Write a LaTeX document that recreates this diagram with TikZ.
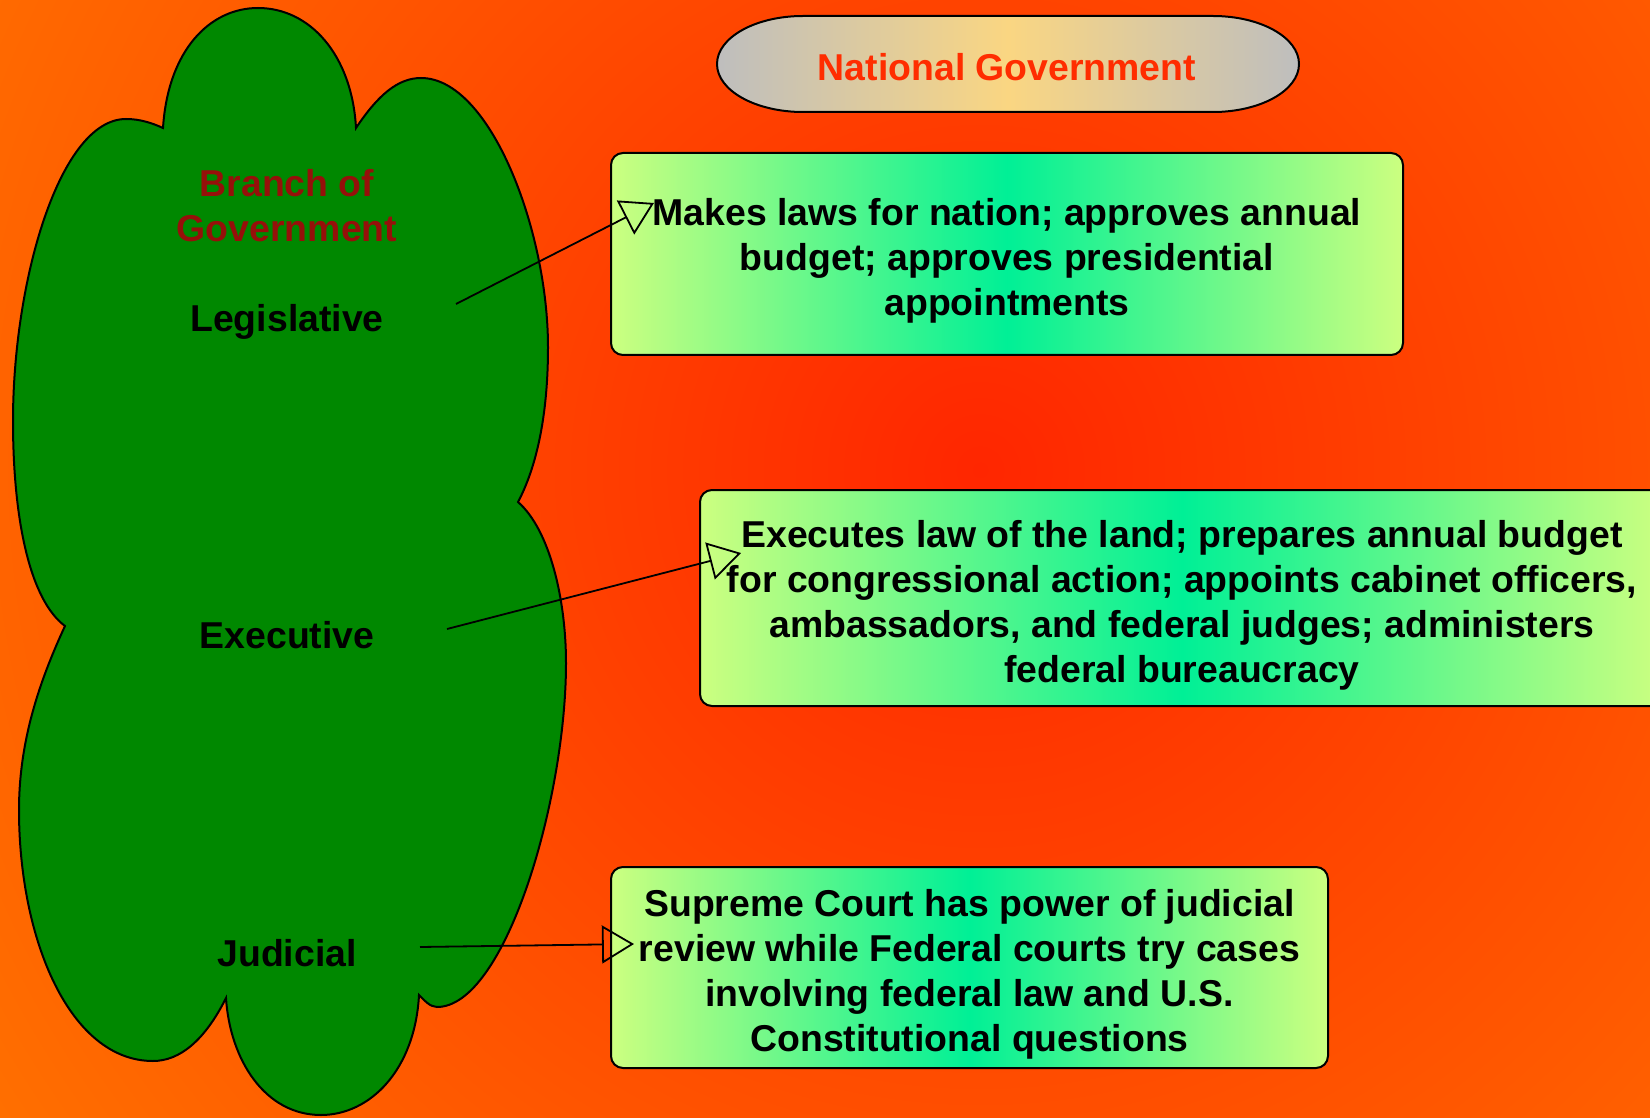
\documentclass[tikz,border=0pt]{standalone}
\usepackage{fontspec}
\setmainfont{Liberation Sans}
\usetikzlibrary{arrows.meta,positioning}

\definecolor{bgin}{RGB}{255,38,0}
\definecolor{bgout}{RGB}{255,150,0}
\definecolor{leaf}{RGB}{0,136,0}
\definecolor{titlered}{RGB}{150,16,10}
\definecolor{natred}{RGB}{255,45,0}
\definecolor{boxedge}{RGB}{204,255,128}
\definecolor{boxmid}{RGB}{0,240,150}
\definecolor{capedge}{RGB}{190,190,190}
\definecolor{capmid}{RGB}{250,214,130}

\begin{document}
\begin{tikzpicture}[
  x=0.5pt, y=0.5pt,
  font=\bfseries\fontsize{18.7}{22.5}\selectfont,
  box/.style={draw, line width=1pt, rounded corners=6pt, align=center, inner sep=0pt,
    left color=boxedge, right color=boxedge, middle color=boxmid},
  capsule/.style={draw, line width=1pt, left color=capedge, right color=capedge, middle color=capmid},
  branch/.style={inner sep=0pt, align=center},
  arrow/.style={-{Triangle[open,length=16pt,width=19pt]}, line width=0.9pt}
]
\useasboundingbox (0,0) rectangle (1650,-1118);
\clip (0,0) rectangle (1650,-1118);
\shade[inner color=bgin, outer color=bgout] (980,-470) circle[radius=1800];

% the cloud of the three branches
\draw[fill=leaf, line width=1pt]
  (163,-128) .. controls (168,-50) and (210,-8) .. (258,-8)
  .. controls (310,-8) and (352,-55) .. (356,-128)
  .. controls (378,-95) and (398,-78) .. (421,-78)
  .. controls (490,-78) and (548,-230) .. (548,-347)
  .. controls (548,-420) and (535,-470) .. (518,-502)
  .. controls (550,-530) and (566,-600) .. (566,-663)
  .. controls (566,-800) and (505,-1007) .. (437,-1007)
  .. controls (430,-1007) and (424,-1000) .. (419,-995)
  .. controls (415,-1070) and (370,-1115) .. (321,-1115)
  .. controls (265,-1115) and (230,-1060) .. (226,-998)
  .. controls (205,-1040) and (180,-1061) .. (153,-1061)
  .. controls (70,-1061) and (19,-940) .. (19,-810)
  .. controls (19,-740) and (40,-680) .. (65,-626)
  .. controls (30,-600) and (13,-520) .. (13,-421)
  .. controls (13,-280) and (60,-119) .. (126,-119)
  .. controls (140,-119) and (152,-123) .. cycle;

\node[branch, text=titlered] (head) at (287,-206) {Branch of\\Government};
\node[branch] (leg) at (287,-322) {Legislative};
\node[branch] (exe) at (287,-635) {Executive};
\node[branch] (jud) at (287,-953) {Judicial};

% title capsule
\draw[capsule] (803,-16) -- (1213,-16) arc[start angle=90, end angle=-90, x radius=86, y radius=48]
  -- (803,-112) arc[start angle=270, end angle=90, x radius=86, y radius=48] -- cycle;
\node[branch, text=natred] (nat) at (1007,-67) {National Government};

\node[box, minimum width=396pt, minimum height=101pt, text height=65.5pt] (legbox) at (1007,-254)
  {Makes laws for nation; approves annual\\budget; approves presidential\\appointments};
\node[box, minimum width=482pt, minimum height=108pt, text height=88pt] (exebox) at (1182,-598)
  {Executes law of the land; prepares annual budget\\for congressional action; appoints cabinet officers,\\ambassadors, and federal judges; administers\\federal bureaucracy};
\node[box, minimum width=358.5pt, minimum height=100.5pt, text height=88pt] (judbox) at (969.5,-967.5)
  {Supreme Court has power of judicial\\review while Federal courts try cases\\involving federal law and U.S.\\Constitutional questions};

\coordinate (legtail) at ([shift={(169,18)}]leg.center);
\coordinate (legtip) at ([shift={(44,51)}]legbox.west);
\coordinate (exetail) at ([shift={(160,6)}]exe.center);
\coordinate (exetip) at ([shift={(42,45)}]exebox.west);
\coordinate (judtail) at ([shift={(133,6)}]jud.center);
\coordinate (judtip) at ([shift={(24,23.5)}]judbox.west);

\draw[arrow] (legtail) -- (legtip);
\draw[arrow] (exetail) -- (exetip);
\draw[arrow] (judtail) -- (judtip);
\end{tikzpicture}
\end{document}
